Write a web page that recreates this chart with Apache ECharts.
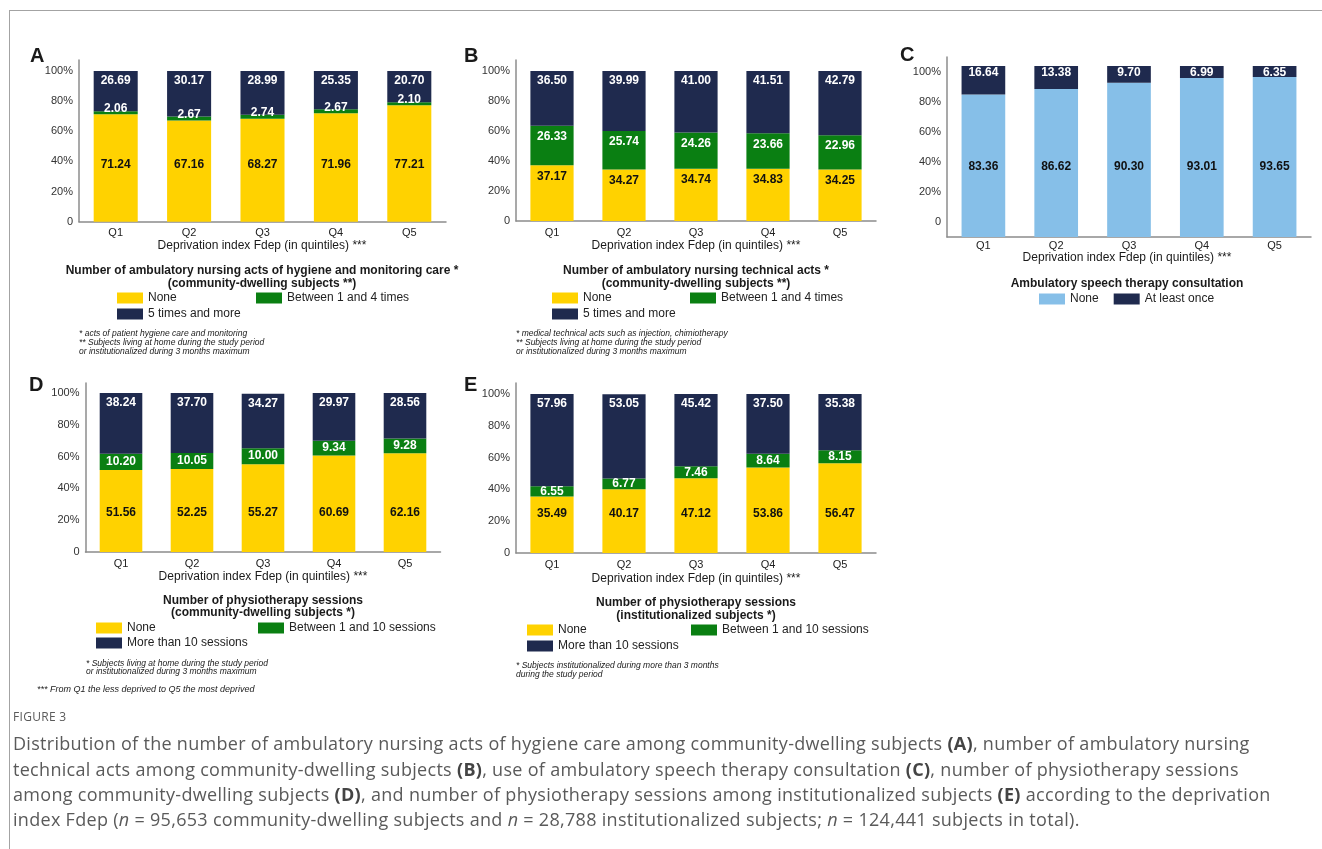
<!DOCTYPE html>
<html>
<head>
<meta charset="utf-8">
<title>Figure 3</title>
<script src="https://cdn.jsdelivr.net/npm/echarts@6/dist/echarts.min.js"></script>
<style>
  body { margin: 0; background: #fff; }
  #frame {
    position: absolute; left: 9px; top: 10px; width: 1320px; height: 845px;
    border-top: 1px solid #a3a3a3; border-left: 1px solid #a3a3a3;
  }
  #chart { position: absolute; left: 0; top: 0; width: 1322px; height: 849px; }
  #caption { position: absolute; left: 13px; top: 0; color: #5a5a5a; font-family: 'Open Sans', sans-serif; z-index: 2; }
  #caption .fig { position: absolute; top: 709px; font-size: 12px; line-height: 16px; letter-spacing: 0.3px; white-space: nowrap; }
  #caption .ln { position: absolute; font-size: 18px; line-height: 25px; letter-spacing: 0.3px; white-space: nowrap; }
  #caption b { color: #444; }
</style>
</head>
<body>
<div id="frame"></div>
<div id="chart"></div>
<div id="caption">
  <div class="fig">FIGURE 3</div>
  <div class="ln" style="top:731px">Distribution of the number of ambulatory nursing acts of hygiene care among community-dwelling subjects <b>(A)</b>, number of ambulatory nursing</div>
  <div class="ln" style="top:757px">technical acts among community-dwelling subjects <b>(B)</b>, use of ambulatory speech therapy consultation <b>(C)</b>, number of physiotherapy sessions</div>
  <div class="ln" style="top:782px">among community-dwelling subjects <b>(D)</b>, and number of physiotherapy sessions among institutionalized subjects <b>(E)</b> according to the deprivation</div>
  <div class="ln" style="top:807px">index Fdep (<i>n</i> = 95,653 community-dwelling subjects and <i>n</i> = 28,788 institutionalized subjects; <i>n</i> = 124,441 subjects in total).</div>
</div>
<script>
var quintiles = ['Q1', 'Q2', 'Q3', 'Q4', 'Q5'];

// A - nursing acts of hygiene and monitoring care
var hygNone = [71.24, 67.16, 68.27, 71.96, 77.21];
var hygMid = [2.06, 2.67, 2.74, 2.67, 2.10];
var hygHigh = [26.69, 30.17, 28.99, 25.35, 20.70];
// B - nursing technical acts
var techNone = [37.17, 34.27, 34.74, 34.83, 34.25];
var techMid = [26.33, 25.74, 24.26, 23.66, 22.96];
var techHigh = [36.50, 39.99, 41.00, 41.51, 42.79];
// C - speech therapy consultation
var speechNone = [83.36, 86.62, 90.30, 93.01, 93.65];
var speechOnce = [16.64, 13.38, 9.70, 6.99, 6.35];
// D - physiotherapy, community-dwelling
var physHomeNone = [51.56, 52.25, 55.27, 60.69, 62.16];
var physHomeMid = [10.20, 10.05, 10.00, 9.34, 9.28];
var physHomeHigh = [38.24, 37.70, 34.27, 29.97, 28.56];
// E - physiotherapy, institutionalized
var physInstNone = [35.49, 40.17, 47.12, 53.86, 56.47];
var physInstMid = [6.55, 6.77, 7.46, 8.64, 8.15];
var physInstHigh = [57.96, 53.05, 45.42, 37.50, 35.38];

var NAVY = '#1f2a4e', YELLOW = '#ffd200', GREEN = '#0a7f12', BLUE = '#86bfe8';
var FONT = '"Liberation Sans", Arial, sans-serif';
var AXIS = { lineStyle: { color: '#8c8c8c', width: 1.5 } };

var grids = [], xAxes = [], yAxes = [], series = [], legends = [], texts = [];

function txt(x, y, s, font, align) {
  texts.push({
    type: 'text', x: x, y: y, silent: true,
    style: { text: s, font: font + ' ' + FONT, fill: '#1a1a1a', textAlign: align || 'left', textVerticalAlign: 'middle' }
  });
}

function pctLabel(v) {
  if (v % 20 !== 0 || v < 0 || v > 100) return '';
  return v === 0 ? '0' : v + '%';
}

function addPanel(p) {
  var gi = grids.length;
  grids.push({ left: p.left, top: p.top, width: p.width, height: p.height });
  xAxes.push({
    type: 'category', gridIndex: gi, data: quintiles,
    axisLine: AXIS, axisTick: { show: false },
    axisLabel: { color: '#222', fontSize: 11, fontFamily: FONT, margin: p.xMargin || 6 }
  });
  var yi = yAxes.length;
  yAxes.push({
    type: 'value', gridIndex: gi, min: 0, max: p.yMax, interval: 20,
    splitLine: { show: false }, axisLine: { show: true, lineStyle: AXIS.lineStyle }, axisTick: { show: false },
    axisLabel: p.labelAxis ? { show: false } : { color: '#333', fontSize: 11, fontFamily: FONT, margin: 6, formatter: pctLabel }
  });
  if (p.labelAxis) {
    // tick labels of panel C sit on their own scale
    yAxes.push({
      type: 'value', gridIndex: gi, position: 'left', min: p.labelAxis[0], max: p.labelAxis[1], interval: 10,
      splitLine: { show: false }, axisLine: { show: false }, axisTick: { show: false },
      axisLabel: { color: '#333', fontSize: 11, fontFamily: FONT, margin: 6, formatter: pctLabel }
    });
  }
  p.layers.forEach(function (l) {
    series.push({
      type: 'bar', name: l.name, xAxisIndex: gi, yAxisIndex: yi, stack: p.id,
      data: l.data, barWidth: '60%',
      itemStyle: { color: l.color },
      label: Object.assign({
        show: true, fontFamily: FONT, fontWeight: 'bold', fontSize: 12, color: l.ink,
        formatter: function (d) { return d.value.toFixed(2); }
      }, l.label)
    });
  });
  txt(p.letter[1], p.letter[2], p.letter[0], 'bold 20px');
  txt(p.xName[0], p.xName[1], 'Deprivation index Fdep (in quintiles) ***', '12px', 'center');
  p.title.forEach(function (t) { txt(t[0], t[1], t[2], 'bold 12px', 'center'); });
  (p.notes || []).forEach(function (t) { txt(t[0], t[1], t[2], 'italic 8.5px'); });
}

function legend(left, top, items, orient, gap) {
  legends.push({
    left: left, top: top, orient: orient || 'vertical', itemGap: gap || 4, padding: 0,
    icon: 'rect', itemWidth: 26, itemHeight: 11, selectedMode: false,
    textStyle: { fontSize: 12, color: '#222', fontFamily: FONT },
    data: items.map(function (it) { return { name: it[0], itemStyle: { color: it[1] } }; })
  });
}

var topLbl = { position: 'insideTop', distance: 4 };

addPanel({
  id: 'A', left: 79, top: 60, width: 367, height: 161.7, yMax: 107.3,
  letter: ['A', 30, 56], xName: [262, 246],
  title: [[262, 271, 'Number of ambulatory nursing acts of hygiene and monitoring care *'], [262, 284, '(community-dwelling subjects **)']],
  notes: [[79, 334, '* acts of patient hygiene care and monitoring'], [79, 343, '** Subjects living at home during the study period'], [79, 352, 'or institutionalized during 3 months maximum']],
  layers: [
    { name: 'None', data: hygNone, color: YELLOW, ink: '#111', label: { position: 'insideBottom', distance: 51 } },
    { name: 'Between 1 and 4 times', data: hygMid, color: GREEN, ink: '#fff', label: { position: 'inside', offset: [0, -4] } },
    { name: '5 times and more', data: hygHigh, color: NAVY, ink: '#fff', label: topLbl }
  ]
});
legend(117, 292, [['None', YELLOW], ['5 times and more', NAVY]]);
legend(256, 292, [['Between 1 and 4 times', GREEN]]);

addPanel({
  id: 'B', left: 516, top: 60, width: 360, height: 161, yMax: 107.3,
  letter: ['B', 464, 56], xName: [696, 246],
  title: [[696, 271, 'Number of ambulatory nursing technical acts *'], [696, 284, '(community-dwelling subjects **)']],
  notes: [[516, 334, '* medical technical acts such as injection, chimiotherapy'], [516, 343, '** Subjects living at home during the study period'], [516, 352, 'or institutionalized during 3 months maximum']],
  layers: [
    { name: 'None', data: techNone, color: YELLOW, ink: '#111', label: { position: 'insideTop', distance: 5 } },
    { name: 'Between 1 and 4 times', data: techMid, color: GREEN, ink: '#fff', label: { position: 'insideTop', distance: 5 } },
    { name: '5 times and more', data: techHigh, color: NAVY, ink: '#fff', label: topLbl }
  ]
});
legend(552, 292, [['None', YELLOW], ['5 times and more', NAVY]]);
legend(690, 292, [['Between 1 and 4 times', GREEN]]);

addPanel({
  id: 'C', left: 947, top: 57, width: 364, height: 180, yMax: 105.3, labelAxis: [-10, 110], xMargin: 3,
  letter: ['C', 900, 55], xName: [1127, 258],
  title: [[1127, 284, 'Ambulatory speech therapy consultation']],
  layers: [
    { name: 'None', data: speechNone, color: BLUE, ink: '#111', label: { position: 'insideBottom', distance: 64 } },
    { name: 'At least once', data: speechOnce, color: NAVY, ink: '#fff', label: { position: 'insideTop', distance: 1 } }
  ]
});
legend(1039, 293, [['None', BLUE], ['At least once', NAVY]], 'horizontal', 15);

addPanel({
  id: 'D', left: 85.5, top: 383, width: 355, height: 169, yMax: 106.3,
  letter: ['D', 29, 385], xName: [263, 577],
  title: [[263, 601, 'Number of physiotherapy sessions'], [263, 613, '(community-dwelling subjects *)']],
  notes: [[86, 664, '* Subjects living at home during the study period'], [86, 672, 'or institutionalized during 3 months maximum']],
  layers: [
    { name: 'None', data: physHomeNone, color: YELLOW, ink: '#111', label: { position: 'insideBottom', distance: 33 } },
    { name: 'Between 1 and 10 sessions', data: physHomeMid, color: GREEN, ink: '#fff', label: { position: 'inside' } },
    { name: 'More than 10 sessions', data: physHomeHigh, color: NAVY, ink: '#fff', label: topLbl }
  ]
});
legend(96, 622, [['None', YELLOW], ['More than 10 sessions', NAVY]], 'vertical', 3);
legend(258, 622, [['Between 1 and 10 sessions', GREEN]]);
txt(37, 689, '*** From Q1 the less deprived to Q5 the most deprived', 'italic 9px');

addPanel({
  id: 'E', left: 516, top: 383, width: 360, height: 170, yMax: 107,
  letter: ['E', 464, 385], xName: [696, 579],
  title: [[696, 603, 'Number of physiotherapy sessions'], [696, 616, '(institutionalized subjects *)']],
  notes: [[516, 666, '* Subjects institutionalized during more than 3 months'], [516, 675, 'during the study period']],
  layers: [
    { name: 'None', data: physInstNone, color: YELLOW, ink: '#111', label: { position: 'insideBottom', distance: 33 } },
    { name: 'Between 1 and 10 sessions', data: physInstMid, color: GREEN, ink: '#fff', label: { position: 'inside' } },
    { name: 'More than 10 sessions', data: physInstHigh, color: NAVY, ink: '#fff', label: topLbl }
  ]
});
legend(527, 624, [['None', YELLOW], ['More than 10 sessions', NAVY]]);
legend(691, 624, [['Between 1 and 10 sessions', GREEN]]);

var chart = echarts.init(document.getElementById('chart'));
chart.setOption({
  animation: false,
  grid: grids,
  xAxis: xAxes,
  yAxis: yAxes,
  legend: legends,
  series: series,
  graphic: texts
});
</script>
</body>
</html>
